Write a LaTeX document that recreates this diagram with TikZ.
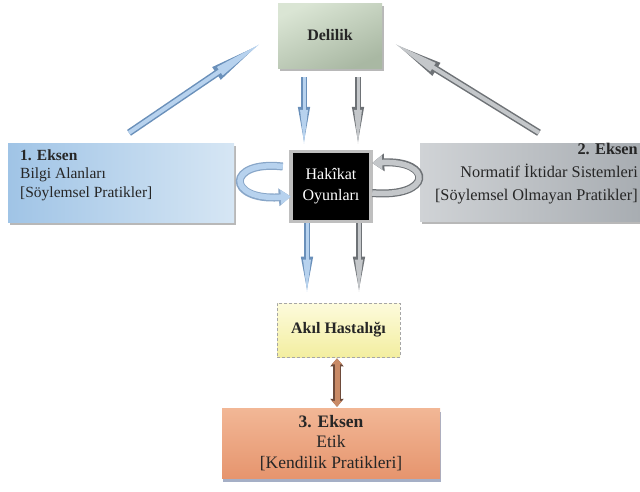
\documentclass[tikz,border=0pt]{standalone}
\usepackage{fontspec}
\setmainfont{Liberation Serif}
\usetikzlibrary{arrows.meta,shadows,calc}
\definecolor{txt}{HTML}{262626}
\definecolor{bluedark}{HTML}{6A90BA}
\definecolor{bluelight}{HTML}{B7D2EE}
\definecolor{graydark}{HTML}{6E7276}
\definecolor{graylight}{HTML}{C4C7CA}
\definecolor{browndark}{HTML}{6E4B3B}
\definecolor{brownlight}{HTML}{C98A66}
\definecolor{delA}{HTML}{DAE5D4}
\definecolor{delB}{HTML}{A9B8A3}
\definecolor{lbA}{HTML}{A0C4E6}
\definecolor{lbB}{HTML}{D6E6F4}
\definecolor{rbA}{HTML}{D0D3D6}
\definecolor{rbB}{HTML}{A8ADB2}
\definecolor{akA}{HTML}{FDFBDC}
\definecolor{akB}{HTML}{F3EEA0}
\definecolor{ekA}{HTML}{F2B796}
\definecolor{ekB}{HTML}{E6956E}
\definecolor{ekS}{HTML}{8E9BB8}
\begin{document}
\begin{tikzpicture}[x=1pt,y=-1pt,
  boxbase/.style={inner sep=0pt, draw=none},
  shadowed/.style={drop shadow={shadow xshift=2pt, shadow yshift=-3pt, fill=black, opacity=0.28}},
  spearblue/.style={line width=3pt, color=bluelight, -{Triangle[length=#1-3pt,width=7pt]},
    preaction={draw, line width=5.5pt, color=bluedark, -{Triangle[length=#1,width=10.5pt]}}},
  speargray/.style={line width=3pt, color=graylight, -{Triangle[length=#1-3pt,width=7pt]},
    preaction={draw, line width=5.5pt, color=graydark, -{Triangle[length=#1,width=10.5pt]}}},
  bigspearblue/.style={line width=4pt, color=bluelight, -{Triangle[length=52pt,width=9pt]},
    preaction={draw, line width=7pt, color=bluedark, -{Triangle[length=56pt,width=13pt]}}},
  bigspeargray/.style={line width=4pt, color=graylight, -{Triangle[length=48pt,width=9pt]},
    preaction={draw, line width=7pt, color=graydark, -{Triangle[length=52pt,width=13pt]}}},
  loopblue/.style={line width=5.5pt, color=bluelight, -{Triangle[length=10pt,width=14pt]},
    preaction={draw, line width=8pt, color=bluedark!80, -{Triangle[length=12pt,width=17pt]}}},
  loopgray/.style={line width=5.5pt, color=graylight, -{Triangle[length=10pt,width=14pt]},
    preaction={draw, line width=8pt, color=graydark, -{Triangle[length=12pt,width=17pt]}}},
  brownarrow/.style={line width=5pt, color=brownlight, {Triangle[length=6pt,width=10pt]}-{Triangle[length=6pt,width=10pt]},
    preaction={draw, line width=7.5pt, color=browndark, {Triangle[length=8pt,width=13pt]}-{Triangle[length=8pt,width=13pt]}}}
]
\useasboundingbox (0,0) rectangle (640,491);

% boxes
\node[boxbase, shadowed, minimum width=104pt, minimum height=65pt,
  top color=delA, bottom color=delB, shading angle=25,
  font=\fontsize{16}{19}\selectfont\bfseries, text=txt] (delilik) at (330,35.5) {Delilik};

\node[boxbase, shadowed, minimum width=226pt, minimum height=79pt,
  left color=lbA, right color=lbB] (lbox) at (121,182.5) {};
\node[anchor=west, align=left, inner sep=0pt, text=txt,
  font=\fontsize{15.5}{18.5}\selectfont] (ltext) at (20,175)
  {\textbf{1. Eksen}\\Bilgi Alanları\\{[Söylemsel Pratikler]}};

\node[boxbase, shadowed, minimum width=220pt, minimum height=78pt,
  left color=rbA, right color=rbB] (rbox) at (530,182) {};
\node[anchor=east, align=right, inner sep=0pt, text=txt,
  font=\fontsize{16.3}{23}\selectfont] (rtext) at (638,174)
  {\textbf{2. Eksen}\\Normatif İktidar Sistemleri\\{[Söylemsel Olmayan Pratikler]}};

\node[boxbase, fill=black, minimum width=76pt, minimum height=67pt,
  drop shadow={shadow xshift=0pt, shadow yshift=0pt, shadow scale=1.1, fill=black, opacity=0.25},
  align=center, text=white, font=\fontsize{16}{21}\selectfont] (hakikat) at (331,186.5)
  {Hakîkat\\Oyunları};

\node[boxbase, minimum width=123pt, minimum height=54pt, draw=gray!70, densely dashed, line width=0.8pt,
  top color=akA, bottom color=akB,
  font=\fontsize{16}{19}\selectfont\bfseries, text=txt] (akil) at (338.5,330) {Akıl Hastalığı};

\node[boxbase, minimum width=218pt, minimum height=70pt,
  drop shadow={shadow xshift=1pt, shadow yshift=-4pt, fill=ekS, opacity=0.8},
  top color=ekA, bottom color=ekB,
  align=center, text=txt, font=\fontsize{17.5}{20.5}\selectfont] (eksen) at (331,443)
  {\textbf{3. Eksen}\\Etik\\{[Kendilik Pratikleri]}};

% diagonal arrows
\draw[bigspearblue] ($(lbox.north)+(8,-10)$) -- ($(delilik.west)+(-15,6.5)$);
\draw[bigspeargray] ($(rbox.north)+(9,-10)$) -- ($(delilik.east)+(10,6.5)$);

% Delilik -> Hakikat
\draw[spearblue=40pt] ($(delilik.south)+(-26,9)$) -- ($(hakikat.north)+(-27,-6)$);
\draw[speargray=40pt] ($(delilik.south)+(28,9)$) -- ($(hakikat.north)+(27,-6)$);

% Hakikat -> Akil
\draw[spearblue=38pt] ($(hakikat.south)+(-24,3)$) -- ($(akil.north)+(-31.5,-8)$);
\draw[speargray=38pt] ($(hakikat.south)+(28,3)$) -- ($(akil.north)+(20.5,-8)$);

% loops
\draw[loopblue] ($(hakikat.west)+(-10,-20)$) .. controls (226,160) and (226,201) .. ($(hakikat.west)+(-2,10)$);
\draw[loopgray] ($(hakikat.east)+(3,6.5)$) .. controls (433,198) and (433,160) .. ($(hakikat.east)+(3,-23.5)$);

% Akil <-> 3. Eksen
\draw[brownarrow] ($(akil.south)+(-1.5,1)$) -- ($(akil.south |- eksen.north)+(-1.5,-1)$);
\end{tikzpicture}
\end{document}
